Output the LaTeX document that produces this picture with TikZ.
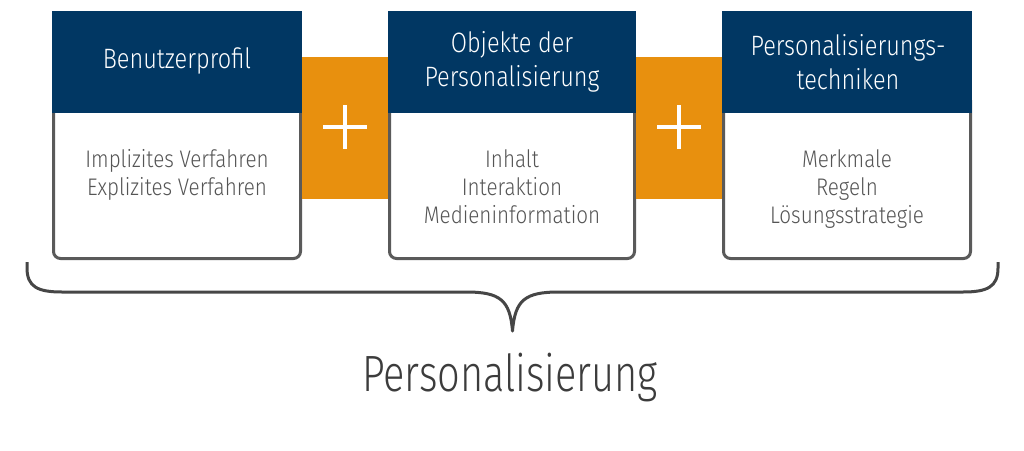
\documentclass[tikz,border=0pt]{standalone}
\usepackage{fontspec}
\setmainfont{Fira Sans}
\newfontfamily\hdfont{Fira Sans Light}[FakeStretch=0.84]
\newfontfamily\bdfont{Fira Sans Light}[FakeStretch=0.86]
\newfontfamily\bigfont{Fira Sans Light}[FakeStretch=0.78]
\definecolor{hdblue}{HTML}{013763}
\definecolor{plusorange}{HTML}{E8900E}
\definecolor{frame}{HTML}{5A5A5A}
\definecolor{bodytext}{HTML}{555555}
\definecolor{bigtext}{HTML}{3C3C3C}
\tikzset{
  header/.style={fill=hdblue, draw=none},
  bodyframe/.style={draw=frame, line width=3pt, rounded corners=7pt, fill=white},
  connbox/.style={fill=plusorange, draw=none},
  plusline/.style={draw=white, line width=4.5pt},
  hdtext/.style={text=white, font=\hdfont\fontsize{28}{34}\selectfont, align=center, inner sep=0pt},
  bdtext/.style={text=bodytext, font=\bdfont\fontsize{24}{28}\selectfont, anchor=base, inner sep=0pt},
  bracepath/.style={draw=bigtext!95, line width=3pt, line join=round},
  bigtextstyle/.style={text=bigtext, font=\bigfont\fontsize{51}{60}\selectfont, anchor=base, inner sep=0pt}
}
\begin{document}
\begin{tikzpicture}[x=1pt,y=-1pt]
\useasboundingbox (0,0) rectangle (1024,450);
\fill[white] (0,0) rectangle (1024,450);
% boxes
\foreach \l/\r in {52/302, 388/636, 722/972}{
  \draw[bodyframe] (\l+1.5,100) -- (\l+1.5,258.5) -- (\r-1.5,258.5) -- (\r-1.5,100);
  \fill[header] (\l,11) rectangle (\r,113);
}
% orange connectors
\fill[connbox] (302,57) rectangle (388,199);
\fill[connbox] (636,57) rectangle (722,199);
\coordinate (p1) at (345,127);
\coordinate (p2) at (679,127);
\draw[plusline] ([xshift=-22pt]p1) -- ([xshift=22pt]p1);
\draw[plusline] ([yshift=-22pt]p1) -- ([yshift=22pt]p1);
\draw[plusline] ([xshift=-22pt]p2) -- ([xshift=22pt]p2);
\draw[plusline] ([yshift=-22pt]p2) -- ([yshift=22pt]p2);
% header texts
\node[hdtext] (h1) at (177,61) {Benutzerprofil};
\node[hdtext] (h2) at (512,62) {Objekte der\\Personalisierung};
\node[hdtext] (h3) at (848,62) {Personalisierungs-\\techniken};
% body texts
\node[bdtext] (b1a) at (177,167) {Implizites Verfahren};
\node[bdtext] (b1b) at (177,195) {Explizites Verfahren};
\node[bdtext] (b2a) at (512,167) {Inhalt};
\node[bdtext] (b2b) at (512,195) {Interaktion};
\node[bdtext] (b2c) at (512,223) {Medieninformation};
\node[bdtext] (b3a) at (847,167) {Merkmale};
\node[bdtext] (b3b) at (847,195) {Regeln};
\node[bdtext] (b3c) at (847,223) {Lösungsstrategie};
% brace
\coordinate (tip) at (512.5,331);
\draw[bracepath] (27,262) -- (27,268) .. controls (27,287) and (38,292) .. (62,292)
  -- (466,292) .. controls (500,292) and (510,300) .. (tip)
  .. controls (515,300) and (525,292) .. (559,292)
  -- (963,292) .. controls (987,292) and (998,287) .. (998,268) -- (998,262);
\node[bigtextstyle] (pers) at (510,391) {Personalisierung};
\end{tikzpicture}
\end{document}
